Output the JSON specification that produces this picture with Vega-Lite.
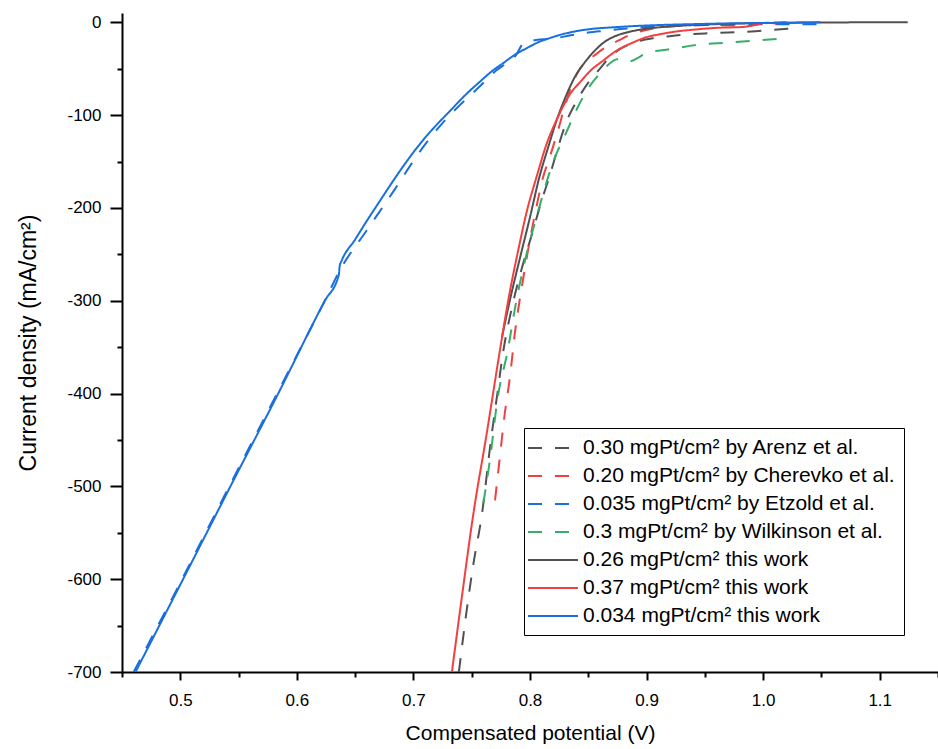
{
  "$schema": "https://vega.github.io/schema/vega-lite/v6.json",
  "width": 816,
  "height": 659,
  "autosize": {"type": "none"},
  "padding": {"left": 122, "top": 13, "right": 0, "bottom": 77},
  "config": {"font": "Liberation Sans", "view": {"stroke": null}},
  "data": {"values": [
    {"s":"0.30 mgPt/cm² by Arenz et al.","v":0.739,"j":-700},
    {"s":"0.30 mgPt/cm² by Arenz et al.","v":0.745,"j":-640},
    {"s":"0.30 mgPt/cm² by Arenz et al.","v":0.751,"j":-587},
    {"s":"0.30 mgPt/cm² by Arenz et al.","v":0.759,"j":-528},
    {"s":"0.30 mgPt/cm² by Arenz et al.","v":0.766,"j":-455},
    {"s":"0.30 mgPt/cm² by Arenz et al.","v":0.772,"j":-400},
    {"s":"0.30 mgPt/cm² by Arenz et al.","v":0.777,"j":-355},
    {"s":"0.30 mgPt/cm² by Arenz et al.","v":0.784,"j":-310},
    {"s":"0.30 mgPt/cm² by Arenz et al.","v":0.793,"j":-265},
    {"s":"0.30 mgPt/cm² by Arenz et al.","v":0.802,"j":-227},
    {"s":"0.30 mgPt/cm² by Arenz et al.","v":0.810,"j":-192},
    {"s":"0.30 mgPt/cm² by Arenz et al.","v":0.817,"j":-165},
    {"s":"0.30 mgPt/cm² by Arenz et al.","v":0.824,"j":-135},
    {"s":"0.30 mgPt/cm² by Arenz et al.","v":0.831,"j":-108},
    {"s":"0.30 mgPt/cm² by Arenz et al.","v":0.840,"j":-85},
    {"s":"0.30 mgPt/cm² by Arenz et al.","v":0.850,"j":-65},
    {"s":"0.30 mgPt/cm² by Arenz et al.","v":0.860,"j":-50},
    {"s":"0.30 mgPt/cm² by Arenz et al.","v":0.868,"j":-38},
    {"s":"0.30 mgPt/cm² by Arenz et al.","v":0.877,"j":-29},
    {"s":"0.30 mgPt/cm² by Arenz et al.","v":0.885,"j":-24},
    {"s":"0.30 mgPt/cm² by Arenz et al.","v":0.894,"j":-20},
    {"s":"0.30 mgPt/cm² by Arenz et al.","v":0.906,"j":-17},
    {"s":"0.30 mgPt/cm² by Arenz et al.","v":0.920,"j":-15},
    {"s":"0.30 mgPt/cm² by Arenz et al.","v":0.934,"j":-13},
    {"s":"0.30 mgPt/cm² by Arenz et al.","v":0.950,"j":-12},
    {"s":"0.30 mgPt/cm² by Arenz et al.","v":0.970,"j":-11},
    {"s":"0.30 mgPt/cm² by Arenz et al.","v":0.990,"j":-10},
    {"s":"0.30 mgPt/cm² by Arenz et al.","v":1.005,"j":-8.5},
    {"s":"0.30 mgPt/cm² by Arenz et al.","v":1.022,"j":-7},

    {"s":"0.20 mgPt/cm² by Cherevko et al.","v":0.770,"j":-515},
    {"s":"0.20 mgPt/cm² by Cherevko et al.","v":0.774,"j":-470},
    {"s":"0.20 mgPt/cm² by Cherevko et al.","v":0.778,"j":-425},
    {"s":"0.20 mgPt/cm² by Cherevko et al.","v":0.783,"j":-380},
    {"s":"0.20 mgPt/cm² by Cherevko et al.","v":0.787,"j":-335},
    {"s":"0.20 mgPt/cm² by Cherevko et al.","v":0.793,"j":-285},
    {"s":"0.20 mgPt/cm² by Cherevko et al.","v":0.800,"j":-234},
    {"s":"0.20 mgPt/cm² by Cherevko et al.","v":0.806,"j":-196},
    {"s":"0.20 mgPt/cm² by Cherevko et al.","v":0.811,"j":-168},
    {"s":"0.20 mgPt/cm² by Cherevko et al.","v":0.817,"j":-145},
    {"s":"0.20 mgPt/cm² by Cherevko et al.","v":0.823,"j":-121},
    {"s":"0.20 mgPt/cm² by Cherevko et al.","v":0.830,"j":-90},
    {"s":"0.20 mgPt/cm² by Cherevko et al.","v":0.837,"j":-64},
    {"s":"0.20 mgPt/cm² by Cherevko et al.","v":0.843,"j":-50},
    {"s":"0.20 mgPt/cm² by Cherevko et al.","v":0.850,"j":-41},
    {"s":"0.20 mgPt/cm² by Cherevko et al.","v":0.857,"j":-34},
    {"s":"0.20 mgPt/cm² by Cherevko et al.","v":0.866,"j":-26},
    {"s":"0.20 mgPt/cm² by Cherevko et al.","v":0.877,"j":-19},
    {"s":"0.20 mgPt/cm² by Cherevko et al.","v":0.885,"j":-14},
    {"s":"0.20 mgPt/cm² by Cherevko et al.","v":0.894,"j":-10},
    {"s":"0.20 mgPt/cm² by Cherevko et al.","v":0.910,"j":-6},
    {"s":"0.20 mgPt/cm² by Cherevko et al.","v":0.934,"j":-3.5},
    {"s":"0.20 mgPt/cm² by Cherevko et al.","v":0.960,"j":-3},
    {"s":"0.20 mgPt/cm² by Cherevko et al.","v":0.986,"j":-4},
    {"s":"0.20 mgPt/cm² by Cherevko et al.","v":0.995,"j":-2},
    {"s":"0.20 mgPt/cm² by Cherevko et al.","v":1.003,"j":-1},
    {"s":"0.20 mgPt/cm² by Cherevko et al.","v":1.020,"j":0},

    {"s":"0.035 mgPt/cm² by Etzold et al.","v":0.4600,"j":-700},
    {"s":"0.035 mgPt/cm² by Etzold et al.","v":0.5015,"j":-600},
    {"s":"0.035 mgPt/cm² by Etzold et al.","v":0.542,"j":-500},
    {"s":"0.035 mgPt/cm² by Etzold et al.","v":0.583,"j":-400},
    {"s":"0.035 mgPt/cm² by Etzold et al.","v":0.624,"j":-300},
    {"s":"0.035 mgPt/cm² by Etzold et al.","v":0.637,"j":-267},
    {"s":"0.035 mgPt/cm² by Etzold et al.","v":0.660,"j":-224},
    {"s":"0.035 mgPt/cm² by Etzold et al.","v":0.684,"j":-180},
    {"s":"0.035 mgPt/cm² by Etzold et al.","v":0.697,"j":-155},
    {"s":"0.035 mgPt/cm² by Etzold et al.","v":0.711,"j":-130},
    {"s":"0.035 mgPt/cm² by Etzold et al.","v":0.724,"j":-110},
    {"s":"0.035 mgPt/cm² by Etzold et al.","v":0.740,"j":-89},
    {"s":"0.035 mgPt/cm² by Etzold et al.","v":0.757,"j":-69},
    {"s":"0.035 mgPt/cm² by Etzold et al.","v":0.771,"j":-52},
    {"s":"0.035 mgPt/cm² by Etzold et al.","v":0.780,"j":-44},
    {"s":"0.035 mgPt/cm² by Etzold et al.","v":0.787,"j":-37},
    {"s":"0.035 mgPt/cm² by Etzold et al.","v":0.795,"j":-22},
    {"s":"0.035 mgPt/cm² by Etzold et al.","v":0.805,"j":-19},
    {"s":"0.035 mgPt/cm² by Etzold et al.","v":0.820,"j":-17.5},
    {"s":"0.035 mgPt/cm² by Etzold et al.","v":0.835,"j":-14},
    {"s":"0.035 mgPt/cm² by Etzold et al.","v":0.850,"j":-11},
    {"s":"0.035 mgPt/cm² by Etzold et al.","v":0.865,"j":-9},
    {"s":"0.035 mgPt/cm² by Etzold et al.","v":0.880,"j":-7},
    {"s":"0.035 mgPt/cm² by Etzold et al.","v":0.900,"j":-5},
    {"s":"0.035 mgPt/cm² by Etzold et al.","v":0.950,"j":-3},
    {"s":"0.035 mgPt/cm² by Etzold et al.","v":1.000,"j":-2},
    {"s":"0.035 mgPt/cm² by Etzold et al.","v":1.046,"j":-2},

    {"s":"0.3 mgPt/cm² by Wilkinson et al.","v":0.760,"j":-518},
    {"s":"0.3 mgPt/cm² by Wilkinson et al.","v":0.766,"j":-468},
    {"s":"0.3 mgPt/cm² by Wilkinson et al.","v":0.772,"j":-407},
    {"s":"0.3 mgPt/cm² by Wilkinson et al.","v":0.781,"j":-353},
    {"s":"0.3 mgPt/cm² by Wilkinson et al.","v":0.788,"j":-302},
    {"s":"0.3 mgPt/cm² by Wilkinson et al.","v":0.797,"j":-250},
    {"s":"0.3 mgPt/cm² by Wilkinson et al.","v":0.808,"j":-199},
    {"s":"0.3 mgPt/cm² by Wilkinson et al.","v":0.820,"j":-150},
    {"s":"0.3 mgPt/cm² by Wilkinson et al.","v":0.831,"j":-119},
    {"s":"0.3 mgPt/cm² by Wilkinson et al.","v":0.840,"j":-94},
    {"s":"0.3 mgPt/cm² by Wilkinson et al.","v":0.849,"j":-73},
    {"s":"0.3 mgPt/cm² by Wilkinson et al.","v":0.860,"j":-55},
    {"s":"0.3 mgPt/cm² by Wilkinson et al.","v":0.866,"j":-47},
    {"s":"0.3 mgPt/cm² by Wilkinson et al.","v":0.874,"j":-40},
    {"s":"0.3 mgPt/cm² by Wilkinson et al.","v":0.880,"j":-39},
    {"s":"0.3 mgPt/cm² by Wilkinson et al.","v":0.886,"j":-42},
    {"s":"0.3 mgPt/cm² by Wilkinson et al.","v":0.893,"j":-38},
    {"s":"0.3 mgPt/cm² by Wilkinson et al.","v":0.900,"j":-33},
    {"s":"0.3 mgPt/cm² by Wilkinson et al.","v":0.920,"j":-29},
    {"s":"0.3 mgPt/cm² by Wilkinson et al.","v":0.946,"j":-24},
    {"s":"0.3 mgPt/cm² by Wilkinson et al.","v":0.969,"j":-22},
    {"s":"0.3 mgPt/cm² by Wilkinson et al.","v":0.991,"j":-20},
    {"s":"0.3 mgPt/cm² by Wilkinson et al.","v":1.021,"j":-17},

    {"s":"0.26 mgPt/cm² this work","v":0.776,"j":-339},
    {"s":"0.26 mgPt/cm² this work","v":0.783,"j":-298},
    {"s":"0.26 mgPt/cm² this work","v":0.791,"j":-256},
    {"s":"0.26 mgPt/cm² this work","v":0.800,"j":-210},
    {"s":"0.26 mgPt/cm² this work","v":0.808,"j":-167},
    {"s":"0.26 mgPt/cm² this work","v":0.816,"j":-133},
    {"s":"0.26 mgPt/cm² this work","v":0.823,"j":-105},
    {"s":"0.26 mgPt/cm² this work","v":0.830,"j":-82},
    {"s":"0.26 mgPt/cm² this work","v":0.838,"j":-60},
    {"s":"0.26 mgPt/cm² this work","v":0.849,"j":-40},
    {"s":"0.26 mgPt/cm² this work","v":0.856,"j":-30},
    {"s":"0.26 mgPt/cm² this work","v":0.863,"j":-22},
    {"s":"0.26 mgPt/cm² this work","v":0.873,"j":-15},
    {"s":"0.26 mgPt/cm² this work","v":0.883,"j":-11},
    {"s":"0.26 mgPt/cm² this work","v":0.894,"j":-8},
    {"s":"0.26 mgPt/cm² this work","v":0.906,"j":-6},
    {"s":"0.26 mgPt/cm² this work","v":0.920,"j":-4.5},
    {"s":"0.26 mgPt/cm² this work","v":0.940,"j":-3},
    {"s":"0.26 mgPt/cm² this work","v":0.974,"j":-1.5},
    {"s":"0.26 mgPt/cm² this work","v":1.000,"j":-0.8},
    {"s":"0.26 mgPt/cm² this work","v":1.050,"j":-0.2},
    {"s":"0.26 mgPt/cm² this work","v":1.124,"j":0},

    {"s":"0.37 mgPt/cm² this work","v":0.733,"j":-700},
    {"s":"0.37 mgPt/cm² this work","v":0.742,"j":-615},
    {"s":"0.37 mgPt/cm² this work","v":0.751,"j":-533},
    {"s":"0.37 mgPt/cm² this work","v":0.763,"j":-442},
    {"s":"0.37 mgPt/cm² this work","v":0.774,"j":-355},
    {"s":"0.37 mgPt/cm² this work","v":0.782,"j":-295},
    {"s":"0.37 mgPt/cm² this work","v":0.790,"j":-245},
    {"s":"0.37 mgPt/cm² this work","v":0.797,"j":-205},
    {"s":"0.37 mgPt/cm² this work","v":0.806,"j":-165},
    {"s":"0.37 mgPt/cm² this work","v":0.814,"j":-132},
    {"s":"0.37 mgPt/cm² this work","v":0.824,"j":-102},
    {"s":"0.37 mgPt/cm² this work","v":0.834,"j":-78},
    {"s":"0.37 mgPt/cm² this work","v":0.844,"j":-63},
    {"s":"0.37 mgPt/cm² this work","v":0.852,"j":-52},
    {"s":"0.37 mgPt/cm² this work","v":0.862,"j":-42},
    {"s":"0.37 mgPt/cm² this work","v":0.875,"j":-30},
    {"s":"0.37 mgPt/cm² this work","v":0.888,"j":-22},
    {"s":"0.37 mgPt/cm² this work","v":0.900,"j":-16},
    {"s":"0.37 mgPt/cm² this work","v":0.911,"j":-13},
    {"s":"0.37 mgPt/cm² this work","v":0.925,"j":-10},
    {"s":"0.37 mgPt/cm² this work","v":0.940,"j":-8},
    {"s":"0.37 mgPt/cm² this work","v":0.960,"j":-6},
    {"s":"0.37 mgPt/cm² this work","v":0.983,"j":-5},
    {"s":"0.37 mgPt/cm² this work","v":0.993,"j":-3},
    {"s":"0.37 mgPt/cm² this work","v":1.003,"j":-0.5},
    {"s":"0.37 mgPt/cm² this work","v":1.012,"j":-1.5},

    {"s":"0.034 mgPt/cm² this work","v":0.4616,"j":-700},
    {"s":"0.034 mgPt/cm² this work","v":0.5024,"j":-600},
    {"s":"0.034 mgPt/cm² this work","v":0.543,"j":-500},
    {"s":"0.034 mgPt/cm² this work","v":0.584,"j":-400},
    {"s":"0.034 mgPt/cm² this work","v":0.624,"j":-300},
    {"s":"0.034 mgPt/cm² this work","v":0.636,"j":-272},
    {"s":"0.034 mgPt/cm² this work","v":0.6368,"j":-262},
    {"s":"0.034 mgPt/cm² this work","v":0.638,"j":-258},
    {"s":"0.034 mgPt/cm² this work","v":0.650,"j":-234},
    {"s":"0.034 mgPt/cm² this work","v":0.660,"j":-214},
    {"s":"0.034 mgPt/cm² this work","v":0.672,"j":-191},
    {"s":"0.034 mgPt/cm² this work","v":0.682,"j":-172},
    {"s":"0.034 mgPt/cm² this work","v":0.693,"j":-152},
    {"s":"0.034 mgPt/cm² this work","v":0.705,"j":-132},
    {"s":"0.034 mgPt/cm² this work","v":0.718,"j":-113},
    {"s":"0.034 mgPt/cm² this work","v":0.731,"j":-96},
    {"s":"0.034 mgPt/cm² this work","v":0.744,"j":-79},
    {"s":"0.034 mgPt/cm² this work","v":0.757,"j":-64},
    {"s":"0.034 mgPt/cm² this work","v":0.767,"j":-53},
    {"s":"0.034 mgPt/cm² this work","v":0.777,"j":-44},
    {"s":"0.034 mgPt/cm² this work","v":0.787,"j":-35},
    {"s":"0.034 mgPt/cm² this work","v":0.797,"j":-28},
    {"s":"0.034 mgPt/cm² this work","v":0.808,"j":-21},
    {"s":"0.034 mgPt/cm² this work","v":0.817,"j":-17},
    {"s":"0.034 mgPt/cm² this work","v":0.826,"j":-13.5},
    {"s":"0.034 mgPt/cm² this work","v":0.840,"j":-9.5},
    {"s":"0.034 mgPt/cm² this work","v":0.854,"j":-7},
    {"s":"0.034 mgPt/cm² this work","v":0.870,"j":-5.5},
    {"s":"0.034 mgPt/cm² this work","v":0.883,"j":-4.5},
    {"s":"0.034 mgPt/cm² this work","v":0.910,"j":-3},
    {"s":"0.034 mgPt/cm² this work","v":0.940,"j":-2},
    {"s":"0.034 mgPt/cm² this work","v":0.980,"j":-1},
    {"s":"0.034 mgPt/cm² this work","v":1.026,"j":-0.5},
    {"s":"0.034 mgPt/cm² this work","v":1.049,"j":0}
  ]},
  "mark": {"type": "line", "strokeWidth": 2, "clip": true, "interpolate": "monotone"},
  "encoding": {
    "x": {
      "field": "v", "type": "quantitative",
      "scale": {"domain": [0.45, 1.15], "nice": false, "zero": false},
      "axis": {
        "title": "Compensated potential (V)",
        "values": [0.45,0.5,0.55,0.6,0.65,0.7,0.75,0.8,0.85,0.9,0.95,1.0,1.05,1.1,1.15],
        "labelExpr": "round(datum.value*20) % 2 == 0 ? format(datum.value, '.1f') : ''",
        "tickSize": {"condition": {"test": "round(datum.value*20) % 2 == 0", "value": 8}, "value": 5},
        "tickWidth": 2, "tickColor": "black",
        "domainWidth": 2, "domainColor": "black",
        "grid": false,
        "labelFontSize": 17, "labelColor": "black", "labelPadding": 12, "labelFlush": false, "labelOverlap": false,
        "titleFontSize": 21, "titleFontWeight": "normal", "titleColor": "black", "titlePadding": 14
      }
    },
    "y": {
      "field": "j", "type": "quantitative",
      "scale": {"domain": [-700, 10], "nice": false, "zero": false},
      "axis": {
        "title": "Current density (mA/cm²)",
        "values": [-700,-650,-600,-550,-500,-450,-400,-350,-300,-250,-200,-150,-100,-50,0],
        "labelExpr": "datum.value % 100 == 0 ? toString(datum.value) : ''",
        "tickSize": {"condition": {"test": "datum.value % 100 == 0", "value": 12}, "value": 5},
        "tickWidth": 2, "tickColor": "black",
        "domainWidth": 2, "domainColor": "black",
        "grid": false,
        "labelFontSize": 17, "labelColor": "black", "labelPadding": 9, "labelOverlap": false,
        "titleFontSize": 23, "titleFontWeight": "normal", "titleColor": "black", "titlePadding": 26
      }
    },
    "color": {
      "field": "s", "type": "nominal",
      "scale": {
        "domain": ["0.30 mgPt/cm² by Arenz et al.","0.20 mgPt/cm² by Cherevko et al.","0.035 mgPt/cm² by Etzold et al.","0.3 mgPt/cm² by Wilkinson et al.","0.26 mgPt/cm² this work","0.37 mgPt/cm² this work","0.034 mgPt/cm² this work"],
        "range": ["#515151","#F14040","#1A6FDF","#37AD6B","#515151","#F14040","#1A6FDF"]
      },
      "legend": {
        "title": null, "orient": "none", "legendX": 402, "legendY": 415,
        "symbolType": "M-1.6,0H3.4", "symbolSize": 400, "symbolStrokeWidth": 2,
        "labelFontSize": 21, "labelColor": "black", "labelOffset": 28, "labelLimit": 0,
        "rowPadding": 7, "padding": 9,
        "fillColor": "white", "strokeColor": "black"
      }
    },
    "strokeDash": {
      "field": "s", "type": "nominal",
      "scale": {
        "domain": ["0.30 mgPt/cm² by Arenz et al.","0.20 mgPt/cm² by Cherevko et al.","0.035 mgPt/cm² by Etzold et al.","0.3 mgPt/cm² by Wilkinson et al.","0.26 mgPt/cm² this work","0.37 mgPt/cm² this work","0.034 mgPt/cm² this work"],
        "range": [[14,13],[14,13],[14,13],[14,13],[1,0],[1,0],[1,0]]
      },
      "legend": {
        "title": null, "orient": "none", "legendX": 402, "legendY": 415,
        "symbolType": "M-1.6,0H3.4", "symbolSize": 400, "symbolStrokeWidth": 2,
        "labelFontSize": 21, "labelColor": "black", "labelOffset": 28, "labelLimit": 0,
        "rowPadding": 7, "padding": 9,
        "fillColor": "white", "strokeColor": "black"
      }
    }
  }
}
